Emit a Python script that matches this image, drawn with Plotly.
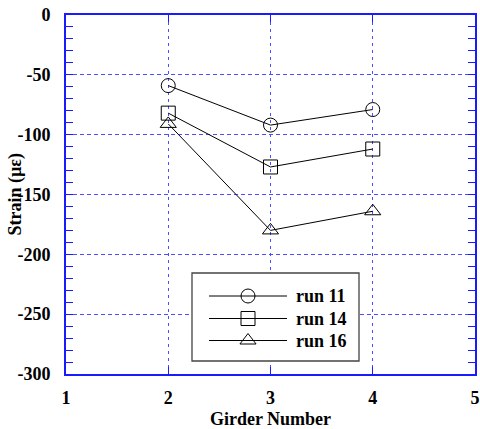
import plotly.graph_objects as go

girders = [2, 3, 4]
run11 = [-59, -92, -79]
run14 = [-82, -127, -112]
run16 = [-91, -180, -164]
series_names = ["run 11", "run 14", "run 16"]
symbols = ["circle-open", "square-open", "triangle-up-open"]
x_ticks = [1, 2, 3, 4, 5]
y_ticks = [0, -50, -100, -150, -200, -250, -300]

FONT = "Liberation Serif"
BLUE = "#1a1aff"
GRID = "#4d4dff"

L, R, T, B = 66, 475, 15, 374
XR = [1, 5]
YR = [-300, 0]


def px2x(px):
    return XR[0] + (px - L) / (R - L) * (XR[1] - XR[0])


def px2y(py):
    return YR[1] - (py - T) / (B - T) * (YR[1] - YR[0])


fig = go.Figure()
for name, vals, sym in zip(series_names, [run11, run14, run16], symbols):
    fig.add_trace(go.Scatter(
        x=girders, y=vals, mode="lines+markers", name=name,
        line=dict(color="black", width=1),
        marker=dict(symbol=sym, size=14, color="black", line=dict(width=1, color="black")),
        showlegend=False,
    ))

# custom legend (layout element) placed in pixel positions
rows = [296, 318.5, 340.5]
for name, sym, yy in zip(series_names, symbols, rows):
    fig.add_trace(go.Scatter(
        x=[px2x(209), px2x(248), px2x(287)], y=[px2y(yy)] * 3, mode="lines",
        line=dict(color="black", width=1), showlegend=False, hoverinfo="skip"))
    fig.add_trace(go.Scatter(
        x=[px2x(248)], y=[px2y(yy)], mode="markers",
        marker=dict(symbol=sym, size=14, color="black", line=dict(width=1, color="black")),
        showlegend=False, hoverinfo="skip"))
    fig.add_annotation(x=px2x(294), y=px2y(yy), xref="x", yref="y", text=name, showarrow=False,
                       xanchor="left", yanchor="middle",
                       font=dict(family=FONT, size=18, color="black", weight="bold"))

fig.add_shape(type="rect", x0=px2x(192), x1=px2x(359), y0=px2y(273), y1=px2y(361),
              xref="x", yref="y",
              line=dict(color="#444", width=1.3), fillcolor="white", layer="between")

fig.add_annotation(x=(15 - L) / (R - L), y=0.5, xref="paper", yref="paper",
                   text="Strain (\u00b5\u03b5)", textangle=-90, showarrow=False,
                   xanchor="center", yanchor="middle",
                   font=dict(family=FONT, size=18, color="black", weight="bold"))

tickfont = dict(family=FONT, size=18, color="black", weight="bold")
fig.update_layout(
    width=480, height=429,
    margin=dict(l=L, r=480 - R, t=T, b=429 - B, autoexpand=False),
    paper_bgcolor="white", plot_bgcolor="white",
    xaxis=dict(range=XR, tickvals=x_ticks, ticktext=[str(v) for v in x_ticks],
               showgrid=True, gridcolor=GRID, griddash="3px,4px", gridwidth=1,
               showline=True, linecolor=BLUE, linewidth=2, mirror="ticks",
               ticks="inside", ticklen=7, tickcolor=BLUE, tickwidth=1,
               tickfont=tickfont, zeroline=False, automargin=False, ticklabelstandoff=6,
               title=dict(text="Girder Number", font=dict(family=FONT, size=18, color="black", weight="bold"), standoff=6)),
    yaxis=dict(range=YR, tickvals=y_ticks, ticktext=[str(v) for v in y_ticks],
               showgrid=True, gridcolor=GRID, griddash="4px,3px", gridwidth=1,
               showline=True, linecolor=BLUE, linewidth=2, mirror="ticks",
               ticks="inside", ticklen=7, tickcolor=BLUE, tickwidth=1,
               minor=dict(dtick=10, ticks="inside", ticklen=7, tickcolor=BLUE, tickwidth=1, showgrid=False),
               tickfont=tickfont, zeroline=False, ticklabelstandoff=10, automargin=False),
)

fig.write_html("out.html", config={"displayModeBar": False},
               post_script="document.body.style.margin='0px';")
